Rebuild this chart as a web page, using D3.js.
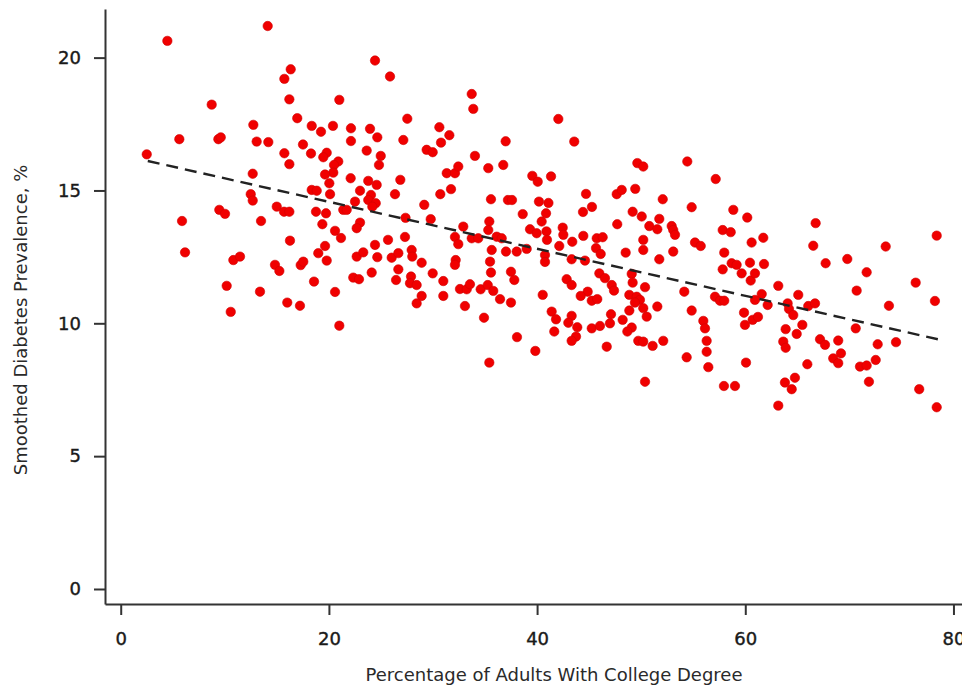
<!DOCTYPE html>
<html>
<head>
<meta charset="utf-8">
<script src="https://cdn.jsdelivr.net/npm/d3@7"></script>
<style>
  html, body { margin: 0; padding: 0; background: #fff; }
  svg { display: block; }
  text { font-family: "DejaVu Sans", Verdana, sans-serif; }
</style>
</head>
<body>
<svg id="chart" width="962" height="688"></svg>
<script>
// ---- data ----
const collegePct = [
  4.48,14.12,16.33,15.72,8.74,16.20,21.00,16.96,12.74,18.35,19.24,20.39,5.63,9.38,9.61,13.06,14.18,17.51,2.50,15.72,
  18.28,19.79,19.46,20.90,20.49,20.42,16.20,12.68,19.63,20.04,18.35,18.83,20.11,12.49,12.68,21.38,9.47,10.02,14.99,15.69,
  16.20,18.76,19.72,5.89,13.48,19.37,20.59,21.16,16.26,6.18,19.63,18.98,19.79,10.82,11.46,14.82,15.24,17.29,17.54,10.18,
  13.38,18.57,20.59,16.00,17.22,10.57,21.00,
  24.43,25.87,33.72,33.87,27.53,22.12,23.95,24.65,30.61,31.57,22.12,27.15,30.77,36.98,23.63,24.98,24.81,29.39,29.97,34.03,
  35.31,36.75,31.32,32.11,32.43,22.09,23.78,24.59,26.86,39.54,40.06,22.99,22.51,24.04,23.78,24.50,24.17,26.35,30.70,31.73,
  35.57,37.20,37.59,40.18,21.71,29.16,27.36,29.78,38.62,22.99,22.67,35.41,35.31,32.91,40.44,39.32,39.96,25.68,27.31,32.11,
  33.72,34.35,36.12,36.60,24.43,32.43,35.64,37.01,38.04,39.00,22.67,23.30,24.65,26.03,26.67,27.95,28.01,28.91,32.18,32.11,
  35.48,22.34,22.89,24.11,26.67,26.45,27.89,27.79,28.43,29.97,30.99,35.57,37.49,37.81,32.59,33.24,33.55,34.58,35.26,35.79,
  28.91,28.43,30.99,33.07,36.44,37.49,40.54,34.90,38.07,39.83,35.41,
  42.04,43.57,49.63,50.20,54.43,41.34,57.16,44.70,47.65,48.13,49.43,52.07,41.09,44.41,45.27,54.85,58.85,60.19,40.86,49.18,
  50.05,51.74,47.70,50.78,51.55,52.93,53.08,53.25,42.46,42.52,40.90,40.95,44.44,45.73,46.30,50.20,43.38,57.83,58.60,60.61,
  55.17,55.72,42.13,45.66,46.11,50.20,53.08,48.51,57.98,40.76,40.76,43.32,44.60,51.74,58.69,59.17,60.45,57.83,59.65,60.52,
  45.98,46.52,47.17,47.39,49.09,49.18,42.84,43.32,50.37,44.86,44.19,48.86,49.57,49.88,49.40,54.14,57.09,57.57,57.98,45.25,
  45.78,51.55,48.86,50.20,50.53,41.40,41.82,54.85,59.88,60.71,43.32,43.00,47.10,47.00,48.22,55.97,59.97,43.86,45.25,46.04,
  49.09,48.67,56.13,41.65,43.74,43.32,49.72,50.20,52.12,56.29,51.10,46.69,56.29,54.37,60.07,56.45,50.37,57.95,59.01,
  66.76,78.39,61.73,66.53,73.49,61.80,67.72,69.80,71.66,60.93,63.17,76.37,70.70,61.58,60.93,65.09,78.22,62.15,64.07,64.20,
  66.05,66.70,73.80,61.22,64.61,65.48,63.88,64.94,70.61,63.65,63.88,67.18,67.66,68.93,72.72,74.48,69.19,68.45,68.93,65.96,
  72.53,71.02,71.66,64.77,63.81,64.46,71.88,76.71,63.17,78.39
];
const diabetesPct = [
  20.63,21.19,19.56,19.20,18.23,18.43,18.41,17.72,17.47,17.43,17.21,17.43,16.93,16.93,17.00,16.84,16.82,16.73,16.36,16.40,
  16.39,16.42,16.25,16.09,15.96,15.67,15.99,15.63,15.60,15.27,15.02,14.99,14.86,14.86,14.62,14.27,14.27,14.12,14.39,14.20,
  14.20,14.20,14.14,13.85,13.85,13.73,13.48,13.21,13.11,12.67,12.91,12.64,12.36,12.38,12.51,12.20,11.97,12.19,12.32,11.41,
  11.19,11.57,11.18,10.78,10.66,10.43,9.91,
  19.89,19.29,18.63,18.07,17.70,17.34,17.32,17.00,17.38,17.08,16.86,16.90,16.80,16.85,16.50,16.30,15.96,16.53,16.44,16.30,
  15.84,15.96,15.65,15.65,15.90,15.46,15.36,15.21,15.40,15.55,15.33,14.99,14.58,14.83,14.64,14.52,14.39,14.86,14.86,15.05,
  14.67,14.64,14.64,14.58,14.27,14.46,13.97,13.92,14.11,13.79,13.58,13.83,13.51,13.64,13.83,13.54,13.39,13.14,13.25,13.25,
  13.20,13.20,13.26,13.20,12.95,12.98,12.76,12.70,12.70,12.80,12.51,12.67,12.49,12.47,12.64,12.76,12.51,12.28,12.38,12.20,
  12.32,11.72,11.66,11.91,12.03,11.63,11.76,11.51,11.44,11.88,11.59,11.91,11.94,11.63,11.29,11.28,11.47,11.28,11.44,11.22,
  11.03,10.75,11.03,10.65,10.91,10.78,11.07,10.21,9.48,8.96,8.52,
  17.69,16.84,16.03,15.90,16.09,15.53,15.43,14.87,14.86,15.02,15.06,14.67,14.53,14.19,14.38,14.37,14.27,13.98,14.14,14.20,
  14.02,13.93,13.73,13.66,13.54,13.66,13.51,13.33,13.60,13.33,13.46,13.14,13.29,13.20,13.24,13.14,13.07,13.51,13.43,13.04,
  13.04,12.91,12.91,12.83,12.61,12.76,12.70,12.66,12.66,12.57,12.31,12.41,12.36,12.41,12.26,12.20,12.28,12.03,11.88,11.61,
  11.88,11.70,11.44,11.23,11.86,11.53,11.66,11.44,11.36,11.19,11.03,11.07,11.00,10.88,10.78,11.19,11.00,10.85,10.85,10.85,
  10.91,10.63,10.48,10.57,10.25,10.44,10.15,10.48,10.40,10.13,10.28,10.02,10.34,10.00,10.13,10.09,9.94,9.85,9.81,9.90,
  9.84,9.69,9.81,9.69,9.50,9.34,9.34,9.31,9.34,9.34,9.15,9.12,8.93,8.72,8.52,8.35,7.80,7.64,7.64,
  13.77,13.30,13.22,12.92,12.89,12.23,12.26,12.42,11.92,11.88,11.41,11.53,11.23,11.10,10.88,11.07,10.84,10.69,10.75,10.54,
  10.65,10.75,10.66,10.24,10.31,9.94,9.78,9.60,9.81,9.31,9.08,9.40,9.19,9.35,9.21,9.29,8.87,8.68,8.50,8.46,
  8.62,8.37,8.41,7.95,7.77,7.52,7.80,7.52,6.90,6.84
];
// dashed fitted line (endpoints)
const fitX = [2.6, 78.5];
const fitY = [16.11, 9.40];

const xTicks = [0, 20, 40, 60, 80];
const yTicks = [0, 5, 10, 15, 20];
const xAxisExtent = [-1.51, 80.82];
const yAxisExtent = [-0.565, 21.83];
const xTitle = "Percentage of Adults With College Degree";
const yTitle = "Smoothed Diabetes Prevalence, %";

// ---- drawing ----
const svg = d3.select("#chart");
const x = d3.scaleLinear().domain(xAxisExtent).range([105, 962]);
const y = d3.scaleLinear().domain(yAxisExtent).range([604, 9]);

const points = collegePct.map((v, i) => ({ x: v, y: diabetesPct[i] }));

svg.append("g")
  .selectAll("circle")
  .data(points)
  .join("circle")
  .attr("cx", d => x(d.x))
  .attr("cy", d => y(d.y))
  .attr("r", 4.7)
  .attr("fill", "#f00000")
  .attr("stroke", "#d00000")
  .attr("stroke-width", 0.6);

const fitData = fitX.map((v, i) => ({ x: v, y: fitY[i] }));
svg.append("path")
  .datum(fitData)
  .attr("d", d3.line().x(d => x(d.x)).y(d => y(d.y)))
  .attr("fill", "none")
  .attr("stroke", "#222")
  .attr("stroke-width", 2.4)
  .attr("stroke-dasharray", "12,7");

const xAxis = svg.append("g")
  .attr("transform", "translate(0,604)")
  .call(d3.axisBottom(x).tickValues(xTicks).tickSize(11).tickSizeOuter(0).tickPadding(17)
        .tickFormat(d3.format("d")));
const yAxis = svg.append("g")
  .attr("transform", "translate(105,0)")
  .call(d3.axisLeft(y).tickValues(yTicks).tickSize(11).tickSizeOuter(0).tickPadding(13)
        .tickFormat(d3.format("d")));

[xAxis, yAxis].forEach(g => {
  g.select(".domain").attr("stroke", "#333").attr("stroke-width", 2);
  g.selectAll(".tick line").attr("stroke", "#333").attr("stroke-width", 2);
  g.selectAll(".tick text")
    .attr("fill", "#1a1a1a")
    .attr("stroke", "#1a1a1a")
    .attr("stroke-width", 0.4)
    .style("font-family", '"DejaVu Sans", Verdana, sans-serif')
    .style("font-size", "18px");
});

svg.append("text")
  .attr("x", 554)
  .attr("y", 681)
  .attr("text-anchor", "middle")
  .attr("fill", "#2a2a2a")
  .style("font-size", "18px")
  .text(xTitle);

svg.append("text")
  .attr("transform", "translate(27,320) rotate(-90)")
  .attr("text-anchor", "middle")
  .attr("fill", "#2a2a2a")
  .style("font-size", "18px")
  .text(yTitle);
</script>
</body>
</html>
